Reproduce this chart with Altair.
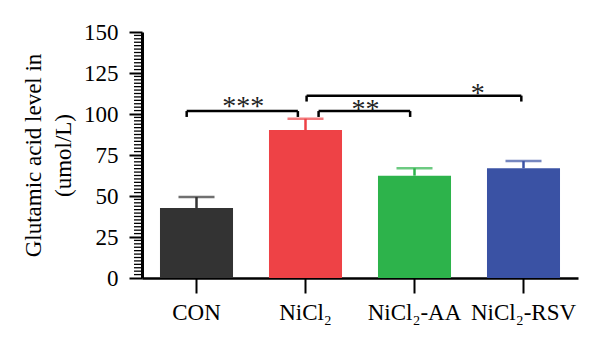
import altair as alt
import pandas as pd

# ---- data ----
groups = ["CON", "NiCl₂", "NiCl₂-AA", "NiCl₂-RSV"]
means = [42.7, 90.2, 62.4, 66.9]
errors = [6.7, 6.9, 4.5, 4.4]
colors = ["#333333", "#EE4246", "#2DB34B", "#3A52A4"]

# significance brackets (x in category-step units, 0..4)
br_start = [0.41, 1.62, 1.51]
br_end = [1.43, 2.46, 3.48]
br_level = [101.8, 101.8, 111.2]
br_text = ["***", "**", "*"]
br_text_x = [0.93, 2.05, 3.08]
br_text_y = [107.3, 105.5, 115.2]
br_drop = 3.6

y_major = [0, 25, 50, 75, 100, 125, 150]
y_minor = [k * 25 / 12 for k in range(0, 73) if k % 12 != 0]

FONT = "Liberation Serif"

bars_df = pd.DataFrame({"group": groups, "mean": means, "err": errors})
bars_df["upper"] = bars_df["mean"] + bars_df["err"]

br_df = pd.DataFrame({"x1": br_start, "x2": br_end, "y": br_level,
                      "ylow": [v - br_drop for v in br_level]})
drops_df = pd.DataFrame({
    "x": br_start + br_end,
    "y": br_level + br_level,
    "ylow": [v - br_drop for v in br_level] * 2,
})
txt_df = pd.DataFrame({"x": br_text_x, "y": br_text_y, "t": br_text})
minor_df = pd.DataFrame({"v": y_minor})

xband = alt.X("group:N", sort=groups, title=None,
              scale=alt.Scale(paddingInner=0.33, paddingOuter=0.165),
              axis=alt.Axis(labelAngle=0, labelFont=FONT, labelFontSize=23,
                            labelColor="black", tickSize=15, tickWidth=2,
                            tickColor="black", domainColor="black",
                            domainWidth=2.5, labelPadding=8))
yscale = alt.Scale(domain=[0, 150], nice=False)
yaxis = alt.Axis(values=y_major, labelFont=FONT, labelFontSize=23,
                 labelColor="black", tickSize=13, tickWidth=2,
                 tickColor="black", domainColor="black", domainWidth=3,
                 grid=False, labelPadding=11,
                 title=["Glutamic acid level in", "(umol/L)"],
                 titleFont=FONT, titleFontSize=23, titleFontWeight="normal",
                 titleColor="black", titleLineHeight=30, titlePadding=8)
color = alt.Color("group:N", sort=groups,
                  scale=alt.Scale(domain=groups, range=colors), legend=None)

base = alt.Chart(bars_df)
bars = base.mark_bar().encode(
    x=xband,
    y=alt.Y("mean:Q", scale=yscale, axis=yaxis),
    color=color,
)
err_rule = base.mark_rule(strokeWidth=2.5).encode(
    x=alt.X("group:N", sort=groups), y="mean:Q", y2="upper:Q", color=color)
err_cap = base.mark_tick(thickness=2.5, size=36).encode(
    x=alt.X("group:N", sort=groups), y="upper:Q", color=color)

minor = alt.Chart(minor_df).mark_rule(color="black", strokeWidth=1.3).encode(
    y=alt.Y("v:Q", scale=yscale), x=alt.value(-8), x2=alt.value(0))

bx = alt.Scale(domain=[0, 4], nice=False, zero=False)
hline = alt.Chart(br_df).mark_rule(color="black", strokeWidth=2.5).encode(
    x=alt.X("x1:Q", scale=bx, axis=None), x2="x2:Q",
    y=alt.Y("y:Q", scale=yscale))
drops = alt.Chart(drops_df).mark_rule(color="black", strokeWidth=2.5).encode(
    x=alt.X("x:Q", scale=bx, axis=None),
    y=alt.Y("y:Q", scale=yscale), y2="ylow:Q")
stars = alt.Chart(txt_df).mark_text(font=FONT, fontSize=28, color="#222222",
                                    baseline="alphabetic", dy=13).encode(
    x=alt.X("x:Q", scale=bx, axis=None),
    y=alt.Y("y:Q", scale=yscale), text="t:N")

brackets = alt.layer(hline, drops, stars)

chart = alt.layer(
    alt.layer(minor, bars, err_rule, err_cap),
    brackets,
).resolve_scale(x="independent").properties(
    width=436, height=246,
    padding={"left": 142, "top": 32, "right": 22, "bottom": 72},
    autosize="none",
).configure_view(stroke=None)

chart.save("out.html", embed_options={"renderer": "svg", "actions": False})
